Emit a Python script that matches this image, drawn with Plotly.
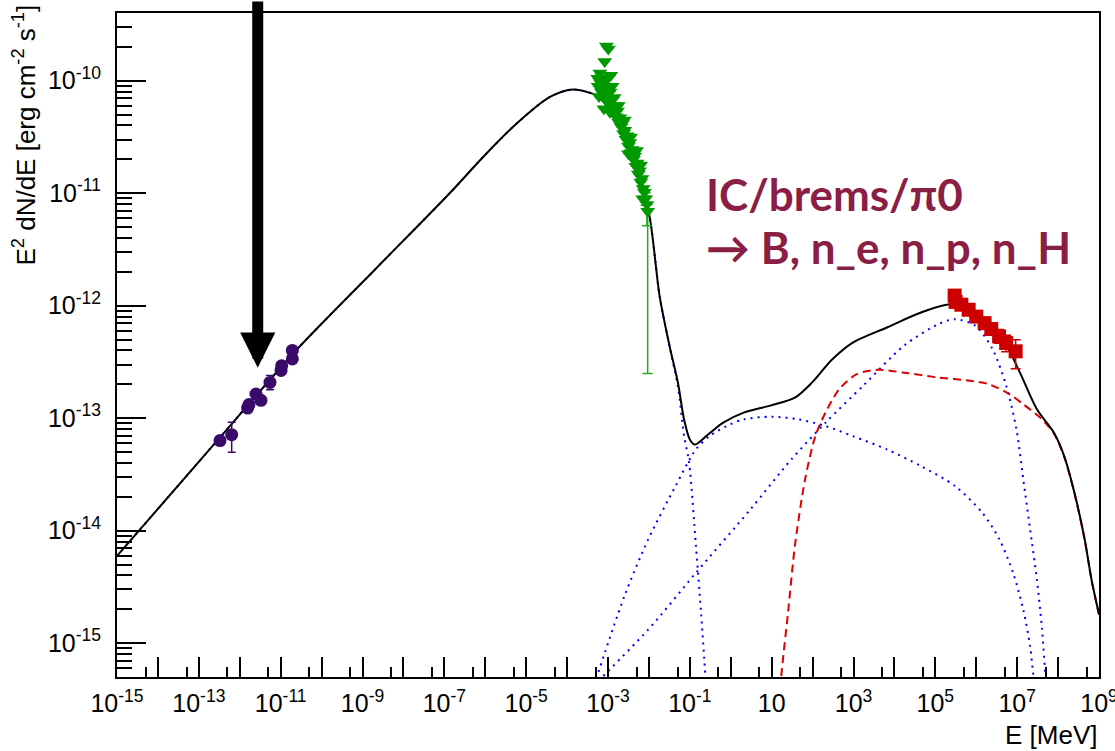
import math
import plotly.graph_objects as go

# ---------------- model components: E [MeV] vs E^2 dN/dE [erg cm^-2 s^-1]
total_E = [1.0e-15, 2.74e-13, 2.46e-11, 2.0e-9, 1.35e-7, 9.0e-7, 5.86e-6, 3.82e-5,
           1.42e-4, 5.28e-4, 1.0e-3, 2.51e-3, 5.01e-3, 1.04e-2, 1.83e-2, 3.21e-2,
           5.13e-2, 7.21e-2, 0.1, 0.132, 0.251, 0.656, 2.07, 9.62, 36.9, 96.2, 304,
           962, 6560, 4.47e4, 2.51e5, 1.41e6, 4.47e6, 1.17e7, 3.04e7, 7.94e7,
           1.41e8, 2.51e8, 4.47e8, 6.56e8, 1.0e9]
total_F = [5.96e-15, 6.24e-14, 4.06e-13, 2.09e-12, 1.0e-11, 2.11e-11, 4.17e-11, 7.18e-11,
           8.36e-11, 7.43e-11, 6.31e-11, 3.55e-11, 1.78e-11, 6.19e-12, 1.21e-12, 4.35e-13,
           2.06e-13, 9.77e-14, 6.46e-14, 5.82e-14, 6.93e-14, 9.12e-14, 1.12e-13, 1.30e-13,
           1.52e-13, 2.07e-13, 3.34e-13, 4.70e-13, 6.40e-13, 8.69e-13, 1.03e-12, 7.59e-13,
           5.04e-13, 2.54e-13, 1.20e-13, 7.43e-14, 4.60e-14, 2.17e-14, 8.36e-15, 3.67e-15,
           1.8e-15]

sync_E = [1.0e-15, 2.74e-13, 2.46e-11, 2.0e-9, 1.35e-7, 9.0e-7, 5.86e-6, 3.82e-5,
          1.42e-4, 5.28e-4, 1.0e-3, 2.51e-3, 5.01e-3, 1.04e-2, 1.83e-2, 3.21e-2,
          5.13e-2, 7.21e-2, 9.6e-2, 0.141, 0.188, 0.241, 0.28]
sync_F = [5.96e-15, 6.24e-14, 4.06e-13, 2.09e-12, 1.0e-11, 2.11e-11, 4.17e-11, 7.18e-11,
          8.36e-11, 7.43e-11, 6.31e-11, 3.55e-11, 1.78e-11, 6.19e-12, 1.21e-12, 4.3e-13,
          1.9e-13, 7.0e-14, 4.02e-14, 7.28e-15, 1.86e-15, 5.0e-16, 2.0e-16]

ic1_E = [3.16e-4, 2.51e-3, 9.62e-3, 4.47e-2, 0.141, 0.304, 0.794, 2.07, 9.62, 44.7,
         207, 962, 6560, 4.47e4, 3.04e5, 1.41e6, 3.69e6, 7.94e6, 1.41e7, 2.07e7,
         2.51e7, 3.16e7]
ic1_F = [2.8e-16, 2.61e-15, 8.36e-15, 2.49e-14, 5.28e-14, 6.93e-14, 8.51e-14, 9.77e-14,
         1.03e-13, 9.77e-14, 8.51e-14, 6.93e-14, 5.28e-14, 3.75e-14, 2.49e-14, 1.44e-14,
         8.36e-15, 4.22e-15, 1.99e-15, 9.38e-16, 5.0e-16, 2.5e-16]

ic2_E = [2.51e-4, 9.62e-3, 0.141, 3.04, 30.4, 207, 1710, 1.71e4, 1.17e5, 3.04e5,
         9.62e5, 2.51e6, 5.41e6, 9.62e6, 1.41e7, 2.07e7, 3.04e7, 4.06e7, 4.92e7, 5.62e7]
ic2_F = [3.4e-16, 1.32e-15, 4.22e-15, 1.55e-14, 4.31e-14, 9.12e-14, 1.94e-13, 4.40e-13,
         6.84e-13, 7.59e-13, 6.62e-13, 4.10e-13, 1.94e-13, 7.94e-14, 2.86e-14, 1.03e-14,
         3.67e-15, 1.32e-15, 5.0e-16, 2.8e-16]

pi0_E = [15.8, 17.1, 25.1, 36.9, 65.6, 117, 207, 447, 1170, 3690, 1.71e4, 1.17e5,
         7.94e5, 2.07e6, 6.56e6, 1.41e7, 4.06e7, 7.94e7, 1.41e8, 2.51e8, 4.47e8,
         6.56e8, 1.0e9]
pi0_F = [3.0e-16, 5.0e-16, 1.86e-15, 7.28e-15, 2.86e-14, 6.93e-14, 1.12e-13, 1.81e-13,
         2.45e-13, 2.69e-13, 2.54e-13, 2.30e-13, 2.14e-13, 2.00e-13, 1.63e-13, 1.33e-13,
         9.77e-14, 7.3e-14, 4.55e-14, 2.15e-14, 8.3e-15, 3.65e-15, 1.8e-15]

# ---------------- measurements
radio_E = [3.29e-13, 6.35e-13, 1.56e-12, 1.68e-12, 2.49e-12, 3.30e-12, 5.48e-12,
           1.02e-11, 1.06e-11, 1.93e-11, 1.93e-11]
radio_F = [6.32e-14, 7.14e-14, 1.23e-13, 1.32e-13, 1.64e-13, 1.44e-13, 2.08e-13,
           2.66e-13, 2.93e-13, 3.36e-13, 4.0e-13]
radio_err_hi = [0, 2.06e-14, 0, 0, 0, 0, 3.1e-14, 0, 0, 0, 0]
radio_err_lo = [0, 2.16e-14, 0, 0, 0, 0, 2.9e-14, 0, 0, 0, 0]

xray_E = [9.12e-4, 1.02e-3, 8.32e-4, 1.17e-3, 5.75e-4, 6.03e-4,
          5.62e-4, 1.0e-3, 1.12e-3, 1.26e-3, 7.94e-4, 1.41e-3, 1.78e-3, 2.51e-3,
          3.55e-3, 3.16e-3, 5.01e-3, 6.31e-3, 7.08e-3,
          6.31e-4, 6.61e-4, 6.92e-4, 7.24e-4, 7.59e-4, 7.94e-4, 8.32e-4, 8.71e-4,
          9.12e-4, 9.55e-4, 1.0e-3, 1.07e-3, 1.12e-3, 1.20e-3, 1.29e-3, 1.38e-3,
          1.48e-3, 1.58e-3, 1.70e-3, 1.82e-3, 1.95e-3, 2.09e-3, 2.24e-3, 2.40e-3,
          2.57e-3, 2.75e-3, 2.95e-3, 3.16e-3, 3.39e-3, 3.63e-3, 3.89e-3, 4.17e-3,
          4.47e-3, 4.79e-3, 5.13e-3, 5.50e-3, 5.89e-3, 6.31e-3, 6.76e-3, 7.24e-3,
          7.76e-3, 8.32e-3, 8.91e-3, 9.33e-3]
xray_F = [2.04e-10, 1.91e-10, 1.48e-10, 1.12e-10, 8.91e-11, 7.24e-11,
          1.05e-10, 1.05e-10, 5.25e-11, 8.91e-11, 5.62e-11, 7.08e-11, 6.03e-11, 4.47e-11,
          3.16e-11, 2.24e-11, 2.40e-11, 1.78e-11, 8.91e-12,
          1.17e-10, 9.55e-11, 7.94e-11, 1.07e-10, 8.71e-11, 7.08e-11, 1.0e-10, 8.13e-11,
          6.61e-11, 8.91e-11, 7.59e-11, 6.31e-11, 7.94e-11, 5.75e-11, 6.76e-11, 5.25e-11,
          6.03e-11, 4.79e-11, 5.37e-11, 4.27e-11, 4.68e-11, 3.89e-11, 4.17e-11, 3.39e-11,
          3.63e-11, 3.02e-11, 3.24e-11, 2.63e-11, 2.82e-11, 2.29e-11, 2.45e-11, 2.0e-11,
          2.14e-11, 1.74e-11, 1.86e-11, 1.48e-11, 1.58e-11, 1.26e-11, 1.35e-11, 1.10e-11,
          1.02e-11, 8.91e-12, 7.94e-12, 6.92e-12]
xray_err_hi = [0] * 60 + [1.2e-12, 1.4e-12, 1.0e-12]
xray_err_lo = [0] * 60 + [1.1e-12, 2.8e-12, 6.67e-12]

tev_E = [2.96e5, 3.13e5, 4.32e5, 6.52e5, 1.0e6, 1.60e6, 2.33e6, 3.62e6, 5.37e6, 9.18e6]
tev_F = [1.23e-12, 1.08e-12, 1.02e-12, 9.2e-13, 8.0e-13, 7.0e-13, 6.2e-13, 5.33e-13,
         4.66e-13, 3.93e-13]
tev_err_hi = [0, 0, 0, 0, 0, 0, 4e-14, 8e-14, 8e-14, 1.06e-13]
tev_err_lo = [0, 0, 0, 0, 0, 0, 4e-14, 7e-14, 7.6e-14, 1.18e-13]

# marker arrow (E, tip flux)
arrow_E = 2.75e-12
arrow_tip_F = 2.81e-13

# axis decades
x_label_exponents = list(range(-15, 10, 2))   # labelled decades
x_plain_exponents = list(range(-14, 9, 2))    # unlabelled decades
y_exponents = list(range(-15, -9))

# ---------------- figure geometry (pixels)
W, H = 1115, 751
L, R, T, B = 117, 1099, 13, 677


def px(x):
    return (x - L) / (R - L)


def py(y):
    return (B - y) / (B - T)


def xlabel(n):
    if n == 1:
        return "10"
    return f"10<sup>{n}</sup>"


fig = go.Figure()

line_kw = dict(shape="spline", smoothing=0.8)
dotted = dict(color="#0000ff", width=2, dash="2px,5px", **line_kw)
fig.add_trace(go.Scatter(x=sync_E, y=sync_F, mode="lines", line=dotted))
fig.add_trace(go.Scatter(x=ic1_E, y=ic1_F, mode="lines", line=dotted))
fig.add_trace(go.Scatter(x=ic2_E, y=ic2_F, mode="lines", line=dotted))
fig.add_trace(go.Scatter(x=pi0_E, y=pi0_F, mode="lines",
                         line=dict(color="#dd0000", width=2, dash="8px,5px", **line_kw)))
fig.add_trace(go.Scatter(x=total_E, y=total_F, mode="lines",
                         line=dict(color="#000000", width=2, **line_kw)))

fig.add_trace(go.Scatter(
    x=radio_E, y=radio_F, mode="markers",
    marker=dict(symbol="circle", size=13, color="#3a0a6a"),
    error_y=dict(type="data", array=radio_err_hi, arrayminus=radio_err_lo,
                 color="#3a0a6a", thickness=1.5, width=4)))
fig.add_trace(go.Scatter(
    x=xray_E, y=xray_F, mode="markers",
    marker=dict(symbol="triangle-down", size=13, color="#009900"),
    error_y=dict(type="data", array=xray_err_hi, arrayminus=xray_err_lo,
                 color="#22aa22", thickness=1.5, width=5)))
fig.add_trace(go.Scatter(
    x=tev_E, y=tev_F, mode="markers",
    marker=dict(symbol="square", size=14, color="#cc0000"),
    error_y=dict(type="data", array=tev_err_hi, arrayminus=tev_err_lo,
                 color="#cc0000", thickness=1.5, width=5)))

# empty trace that carries the secondary (unlabelled decade) x axis
fig.add_trace(go.Scatter(x=[], y=[], xaxis="x2", yaxis="y", mode="lines",
                         hoverinfo="skip"))

tick_font = dict(family="Liberation Sans, Arial, sans-serif", size=25, color="#000000")
x_range = [-15, 9]

fig.update_layout(
    width=W, height=H, template="none",
    margin=dict(l=L, r=W - R, t=T, b=H - B, pad=0),
    paper_bgcolor="white", plot_bgcolor="white",
    showlegend=False,
    xaxis=dict(
        type="log", range=x_range, automargin=False,
        showgrid=False, zeroline=False,
        showline=True, linecolor="#000000", linewidth=2, mirror=True,
        ticks="inside", ticklen=20, tickwidth=1.5, tickcolor="#000000",
        tickmode="array", tickvals=[10.0 ** n for n in x_label_exponents],
        ticktext=[xlabel(n) for n in x_label_exponents],
        tickfont=tick_font, ticklabelstandoff=3, ticklabeloverflow="allow",
        minor=dict(ticks="inside", ticklen=10, tickwidth=1.5, tickcolor="#000000",
                   tickmode="array", tickvals=[5 * 10.0 ** n for n in range(-15, 9)]),
    ),
    xaxis2=dict(
        type="log", range=x_range, overlaying="x", anchor="y", side="bottom",
        automargin=False, showgrid=False, zeroline=False, showline=False,
        showticklabels=False,
        ticks="inside", ticklen=20, tickwidth=1.5, tickcolor="#000000",
        tickmode="array", tickvals=[10.0 ** n for n in x_plain_exponents],
    ),
    yaxis=dict(
        type="log", range=[math.log10(5e-16), math.log10(4e-10)], automargin=False,
        showgrid=False, zeroline=False,
        showline=True, linecolor="#000000", linewidth=2, mirror=True,
        ticks="inside", ticklen=29, tickwidth=1.5, tickcolor="#000000",
        tickmode="array", tickvals=[10.0 ** n for n in y_exponents],
        ticktext=[f"10<sup>{n}</sup>" for n in y_exponents],
        tickfont=tick_font, ticklabelstandoff=9,
        minor=dict(ticks="inside", ticklen=15, tickwidth=1.5, tickcolor="#000000",
                   tickmode="array",
                   tickvals=[k * 10.0 ** n for n in range(-16, -9) for k in range(2, 10)]),
    ),
)

title_font = dict(family="Liberation Sans, Arial, sans-serif", size=26, color="#000000")
text_color = "#8b1e45"
big_font = dict(family="Lato, Open Sans, sans-serif", size=44, color=text_color)

fig.update_layout(annotations=[
    # y axis title, aligned to the top of the axis
    dict(text="E<sup>2</sup> dN/dE [erg cm<sup>-2</sup> s<sup>-1</sup>]",
         textangle=-90, xref="paper", yref="paper", x=px(25), y=py(3),
         xanchor="center", yanchor="top", showarrow=False, font=title_font),
    # x axis title, aligned to the right end of the axis
    dict(text="E [MeV]", xref="paper", yref="paper", x=px(R), y=py(735),
         xanchor="right", yanchor="middle", showarrow=False, font=title_font),
    # big arrow pointing at the radio points
    dict(x=math.log10(arrow_E), y=math.log10(arrow_tip_F), xref="x", yref="y",
         text="", showarrow=True, arrowhead=2, arrowsize=0.64, arrowwidth=11,
         arrowcolor="#000000", ax=0, ay=-368, axref="pixel", ayref="pixel"),
    dict(text="<b>IC/brems/\u03c00</b>", xref="paper", yref="paper",
         x=px(704), y=py(194), xanchor="left", yanchor="middle",
         showarrow=False, font=big_font),
    dict(text="<b>\u2192 B, n_e, n_p, n_H</b>", xref="paper", yref="paper",
         x=px(704), y=py(247), xanchor="left", yanchor="middle",
         showarrow=False, font=big_font),
])

fig.write_html("out.html")
